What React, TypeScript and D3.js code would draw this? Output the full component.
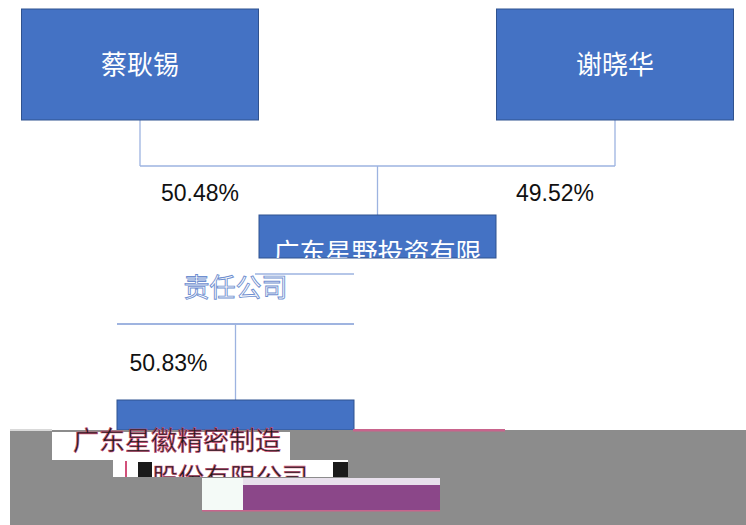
import { scaleOrdinal, scalePoint } from "d3";

const WIDTH = 746;
const HEIGHT = 525;

// ownership data
const shareholders = ["蔡耿锡", "谢晓华"];
const shareholderStakes = ["50.48%", "49.52%"];
const holdingLines = ["广东星野投资有限", "责任公司"];
const holdingStake = "50.83%";
const targetLines = ["广东星徽精密制造", "股份有限公司"];
const levels = ["owners", "holding", "target"];

const BOX_W = 237;
const BOX_H = 111;
const SHIFT = -142; // horizontal offset of the displaced lower band
const BLUE = "#4472C4";
const EDGE = "#2F528F";
const LINK = "#9DB3E0";
const CJK = "'Noto Sans CJK SC', sans-serif";
const LATIN = "'Liberation Sans', Arial, sans-serif";

export default function App() {
  const x = scalePoint<string>().domain(shareholders).range([140, 615]);
  const yTop = scaleOrdinal<string, number>().domain(levels).range([9, 215, 400]);

  const midX = ((x(shareholders[0]) ?? 0) + (x(shareholders[1]) ?? 0)) / 2;
  const lowX = midX + SHIFT;
  const ownersBottom = yTop("owners") + BOX_H;
  const busY = ownersBottom + 46;
  const holdingTop = yTop("holding");
  const holdingBottom = holdingTop + BOX_H - 2;
  const targetTop = yTop("target");
  const glitchY = 430;

  return (
    <svg
      width={WIDTH}
      height={HEIGHT}
      viewBox={`0 0 ${WIDTH} ${HEIGHT}`}
      style={{ position: "fixed", left: 0, top: 0, background: "#fff" }}
    >
      <defs>
        <clipPath id="holdingTopPart">
          <rect x={midX - BOX_W / 2} y={holdingTop} width={BOX_W} height={43} />
        </clipPath>
        <clipPath id="targetSecondRow">
          <rect x={113} y={460} width={235} height={17} />
        </clipPath>
      </defs>

      {/* connectors owners -> holding */}
      {shareholders.map((name) => (
        <line
          key={`v-${name}`}
          x1={x(name)}
          x2={x(name)}
          y1={ownersBottom}
          y2={busY}
          stroke={LINK}
          strokeWidth={1.3}
        />
      ))}
      <line
        x1={x(shareholders[0])}
        x2={x(shareholders[1])}
        y1={busY}
        y2={busY}
        stroke={LINK}
        strokeWidth={1.3}
      />
      <line x1={midX} x2={midX} y1={busY} y2={holdingTop} stroke={LINK} strokeWidth={1.3} />

      {/* owner boxes */}
      {shareholders.map((name) => (
        <g key={name}>
          <rect
            x={(x(name) ?? 0) - BOX_W / 2}
            y={yTop("owners")}
            width={BOX_W}
            height={BOX_H}
            fill={BLUE}
            stroke={EDGE}
            strokeWidth={1}
          />
          <text
            x={x(name)}
            y={yTop("owners") + BOX_H / 2 + 9}
            textAnchor="middle"
            fill="#fff"
            fontSize={26}
            fontFamily={CJK}
          >
            {name}
          </text>
        </g>
      ))}

      {/* owner stakes */}
      {shareholders.map((name, i) => (
        <text
          key={`s-${name}`}
          x={(x(name) ?? 0) + (i === 0 ? 60 : -60)}
          y={busY + 35}
          textAnchor="middle"
          fill="#111"
          fontSize={23}
          fontFamily={LATIN}
        >
          {shareholderStakes[i]}
        </text>
      ))}

      {/* holding company: intact upper part */}
      <rect
        x={midX - BOX_W / 2}
        y={holdingTop}
        width={BOX_W}
        height={43}
        fill={BLUE}
        stroke={EDGE}
        strokeWidth={1}
      />
      <text
        x={midX}
        y={holdingTop + 47}
        textAnchor="middle"
        fill="#fff"
        fontSize={26}
        fontFamily={CJK}
        clipPath="url(#holdingTopPart)"
      >
        {holdingLines[0]}
      </text>

      {/* holding company: displaced lower part */}
      <line x1={255} x2={lowX + BOX_W / 2} y1={274} y2={274} stroke={LINK} strokeWidth={1.3} />
      <text
        x={lowX}
        y={297}
        textAnchor="middle"
        fill="#fff"
        stroke="#6f8fd0"
        strokeWidth={0.9}
        fontSize={26}
        fontFamily={CJK}
      >
        {holdingLines[1]}
      </text>
      <line
        x1={lowX - BOX_W / 2}
        x2={lowX + BOX_W / 2}
        y1={holdingBottom}
        y2={holdingBottom}
        stroke="#7f9bd6"
        strokeWidth={1.3}
      />

      {/* connector holding -> target */}
      <line x1={lowX} x2={lowX} y1={holdingBottom} y2={targetTop} stroke={LINK} strokeWidth={1.3} />
      <text
        x={lowX - 67}
        y={371}
        textAnchor="middle"
        fill="#111"
        fontSize={23}
        fontFamily={LATIN}
      >
        {holdingStake}
      </text>

      {/* target company box (upper part) */}
      <rect
        x={lowX - BOX_W / 2}
        y={targetTop}
        width={BOX_W}
        height={glitchY - targetTop}
        fill={BLUE}
        stroke={EDGE}
        strokeWidth={1}
      />

      {/* corrupted lower band */}
      <rect x={10} y={glitchY} width={WIDTH - 10} height={HEIGHT - glitchY} fill="#8c8c8c" />
      <rect x={353} y={glitchY - 1} width={152} height={2.5} fill="#c8648c" />
      <rect x={10} y={glitchY - 1} width={42} height={2} fill="#d9d9d9" />

      <rect x={52} y={432} width={238} height={28} fill="#fff" />
      <text
        x={177}
        y={450}
        textAnchor="middle"
        fill="#1c1c1c"
        stroke="#d2507a"
        strokeWidth={0.6}
        fontSize={26}
        fontFamily={CJK}
      >
        {targetLines[0]}
      </text>

      <rect x={113} y={460} width={235} height={17} fill="#fff" />
      <text
        x={230}
        y={487}
        textAnchor="middle"
        fill="#1c1c1c"
        stroke="#d2507a"
        strokeWidth={0.6}
        fontSize={26}
        fontFamily={CJK}
        clipPath="url(#targetSecondRow)"
      >
        {targetLines[1]}
      </text>
      <rect x={138} y={462} width={14} height={15} fill="#1a1a1a" />
      <rect x={333} y={462} width={15} height={15} fill="#1a1a1a" />
      <rect x={125} y={461} width={2} height={16} fill="#d2507a" />

      <rect x={202} y={478} width={41} height={33} fill="#f4faf7" />
      <rect x={243} y={478} width={197} height={7} fill="#e8e0ec" />
      <rect x={243} y={485} width={197} height={26} fill="#8b4789" />
      <rect x={202} y={510} width={238} height={1.5} fill="#c8648c" />
    </svg>
  );
}
